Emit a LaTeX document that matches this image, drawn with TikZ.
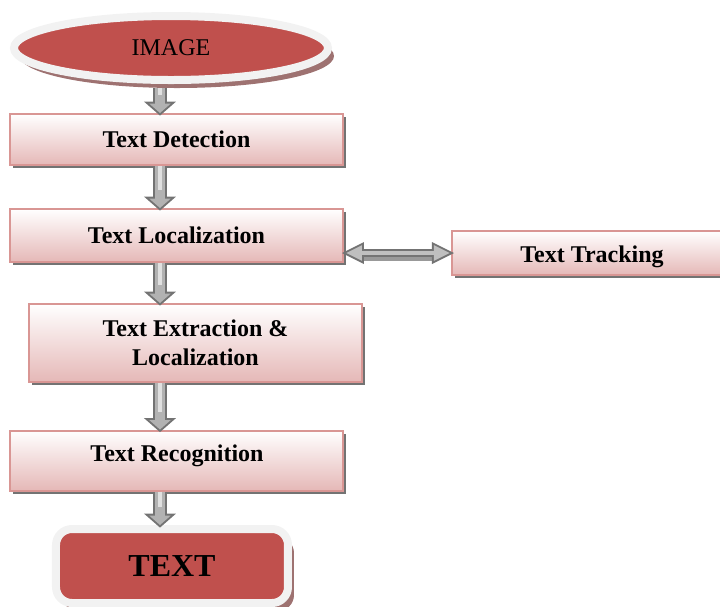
\documentclass[12pt,tikz,border=0pt]{standalone}
\usepackage{fontspec}
\setmainfont{Liberation Serif}
\usetikzlibrary{arrows.meta,positioning,shapes.geometric,shadows}
\definecolor{redfill}{HTML}{C0504D}
\definecolor{ringgray}{HTML}{F2F2F2}
\definecolor{boxline}{HTML}{D99694}
\definecolor{boxbot}{HTML}{E5B8B7}
\definecolor{shadowred}{HTML}{9E7271}

\begin{document}
\begin{tikzpicture}[
    x=0.5pt, y=-0.5pt,
    stepbox/.style={rectangle, draw=boxline, line width=1pt, top color=white, bottom color=boxbot,
      minimum width=166.5pt, inner sep=0pt, font=\bfseries, align=center,
      drop shadow={shadow xshift=1.5pt, shadow yshift=-1.5pt, fill=black!55, opacity=1}},
    endpoint/.style={draw=ringgray, line width=4pt, fill=redfill, inner sep=0pt,
      drop shadow={shadow xshift=3pt, shadow yshift=-4pt, fill=shadowred, opacity=1}},
    flow/.style={
      preaction={draw=black!55, line width=7pt, shorten >=-1.3pt,
        -{Triangle[width=16pt, length=7pt, line width=0pt]}},
      draw=black!30, line width=5pt, shorten >=0pt,
      -{Triangle[width=10.7pt, length=4.7pt, line width=0pt]},
      postaction={draw=white, opacity=.6, line width=1.8pt, shorten >=9pt, -}},
    link/.style={
      preaction={draw=black!40, line width=3.5pt, shorten <=8pt, shorten >=8pt,
        transform canvas={xshift=1pt, yshift=-2pt}, -},
      preaction={draw=black!55, line width=4pt, shorten <=-1pt, shorten >=-1.5pt,
        {Triangle[width=11pt, length=11pt, line width=0pt]}-{Triangle[width=11pt, length=11pt, line width=0pt]}},
      draw=black!25, line width=2.2pt, shorten <=1.2pt, shorten >=0.7pt,
      {Triangle[width=7.8pt, length=7.8pt, line width=0pt]}-{Triangle[width=7.8pt, length=7.8pt, line width=0pt]}}
  ]
  \useasboundingbox (0,0) rectangle (720,607);
  \coordinate (spine) at (160,0);

  % start and end of the chain
  \node[endpoint, ellipse, minimum width=157pt, minimum height=32pt] (img) at (171,48) {IMAGE};
  \node[endpoint, rounded corners=8pt, minimum width=116pt, minimum height=37pt,
    font=\fontsize{16}{19}\selectfont\bfseries] (out) at (172,566) {TEXT};

  % processing steps
  \node[stepbox, minimum height=25.5pt] (det) at (176.5,139.5) {Text Detection};
  \node[stepbox, minimum height=26.5pt] (loc) at (176.5,235.5) {Text Localization};
  \node[stepbox, minimum height=22pt, minimum width=140pt, text height=12.5pt] (trk) at (592,253) {Text Tracking};
  \node[stepbox, minimum height=39pt] (ext) at (195.5,343) {Text Extraction \&\\Localization};
  \node[stepbox, minimum height=30pt, text depth=7pt] (rec) at (177,460.5) {Text Recognition};

  \draw[flow, shorten <=2pt] (img.south -| spine) -- (det.north -| spine);
  \draw[flow] (det.south -| spine) -- (loc.north -| spine);
  \draw[flow] (loc.south -| spine) -- (ext.north -| spine);
  \draw[flow] (ext.south -| spine) -- (rec.north -| spine);
  \draw[flow] (rec.south -| spine) -- (out.north -| spine);
  \draw[link] (loc.east |- trk.west) -- (trk.west);
\end{tikzpicture}
\end{document}
